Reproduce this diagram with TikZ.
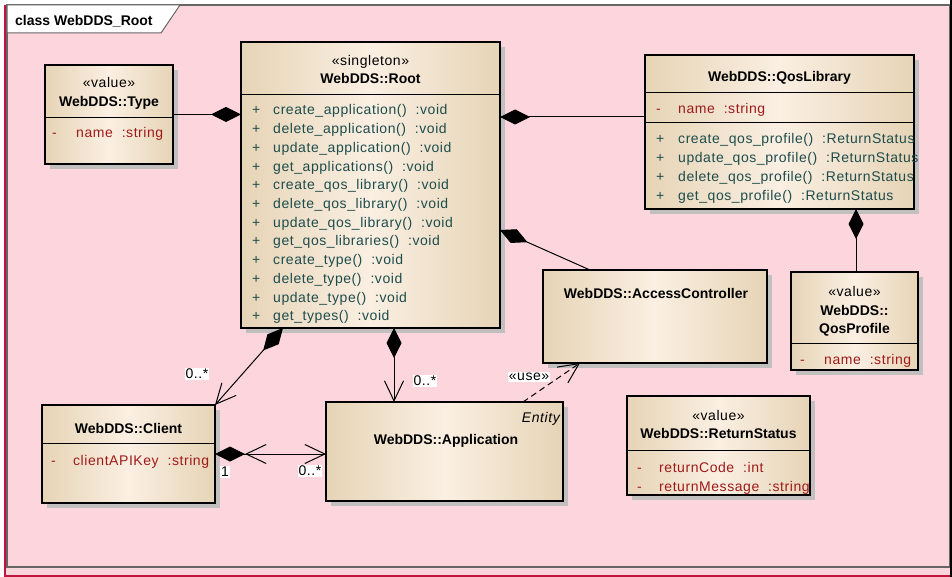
\documentclass[tikz,border=0pt]{standalone}
\usepackage{fontspec}
\setmainfont{Liberation Sans}[LetterSpace=4, BoldFeatures={LetterSpace=0}]
\usetikzlibrary{arrows.meta,shadows,calc}
\definecolor{pinkbg}{HTML}{FCD5DD}
\definecolor{crim}{HTML}{C0143C}
\definecolor{tanE}{HTML}{E6D4B6}
\definecolor{tanM}{HTML}{FAEFE2}
\definecolor{opc}{HTML}{1E4D4D}
\definecolor{atc}{HTML}{A01A1A}
\definecolor{shad}{HTML}{C2BFBF}
\definecolor{frameg}{HTML}{666666}
\tikzset{
  cmp/.tip={Diamond[length=30pt,width=15pt]},
  nav/.tip={Straight Barb[length=20pt,width=19pt]},
  classbox/.style={draw=black, line width=1.1pt, inner sep=0pt, outer sep=0pt,
    anchor=north west, left color=tanE, right color=tanE, middle color=tanM,
    drop shadow={shadow xshift=5pt, shadow yshift=-5pt, fill=shad, opacity=1}},
  sep/.style={draw=black, line width=1pt},
  txt/.style={inner sep=0pt, font=\fontsize{14}{16}\selectfont},
  ctr/.style={txt, anchor=base},
  ttl/.style={txt, anchor=base, font=\fontsize{14}{16}\selectfont\bfseries},
  op/.style={txt, anchor=base west, text=opc},
  att/.style={txt, anchor=base west, text=atc},
  conn/.style={draw=black, line width=1pt},
  usedash/.style={dash pattern=on 6pt off 4pt},
  mult/.style={txt, fill=white, inner sep=1pt, anchor=center}
}
\begin{document}
\begin{tikzpicture}[x=1pt,y=-1pt]
\useasboundingbox (0,0) rectangle (952,577);
% frame
\fill[white] (0,0) rectangle (952,577);
\fill[pinkbg] (4,5) rectangle (950,577);
\draw[crim, line width=2pt] (5,5) -- (5,576) -- (950,576);
\draw[frameg, line width=1.2pt] (7,5) rectangle (950,567);
\draw[black, line width=2pt] (950.5,0) -- (950.5,577);
\draw[frameg, line width=1pt, fill=white] (7,5) -- (180,5) -- (161,33) -- (7,33) -- cycle;
\node[txt, anchor=base west, font=\fontsize{14}{16}\selectfont\bfseries] (tabtitle) at (15,26) {class WebDDS\_Root};

% classes
\node[classbox, minimum width=128pt, minimum height=99pt] (type) at (45,65) {};
\node[classbox, minimum width=259pt, minimum height=286pt] (root) at (241,42) {};
\node[classbox, minimum width=269pt, minimum height=154pt] (qoslib) at (645,55) {};
\node[classbox, minimum width=224pt, minimum height=93pt] (access) at (543,270) {};
\node[classbox, minimum width=127pt, minimum height=98pt] (qosprof) at (791,272) {};
\node[classbox, minimum width=173pt, minimum height=98pt] (client) at (42,405) {};
\node[classbox, minimum width=237pt, minimum height=99pt] (app) at (326,402) {};
\node[classbox, minimum width=183pt, minimum height=99pt] (retstat) at (627,396) {};

% separators
\draw[sep] (type.west |- 0,118) -- (type.east |- 0,118);
\draw[sep] (root.west |- 0,95) -- (root.east |- 0,95);
\draw[sep] (qoslib.west |- 0,93) -- (qoslib.east |- 0,93);
\draw[sep] (qoslib.west |- 0,123) -- (qoslib.east |- 0,123);
\draw[sep] (qosprof.west |- 0,343) -- (qosprof.east |- 0,343);
\draw[sep] (client.west |- 0,443) -- (client.east |- 0,443);
\draw[sep] (retstat.west |- 0,450) -- (retstat.east |- 0,450);

% Type
\node[ctr] (typest) at (109,88) {«value»};
\node[ttl] (typet) at (109,107) {WebDDS::Type};
\node[att] (typem) at (52,138) {-};
\node[att] (typea) at (76,138) {name~ :string};

% Root
\node[ctr] (rootst) at (370.5,66) {«singleton»};
\node[ttl] (roott) at (370.5,84) {WebDDS::Root};
\foreach \t [count=\i from 0] in {create\_application()~ :void, delete\_application()~ :void,
  update\_application()~ :void, get\_applications()~ :void, create\_qos\_library()~ :void,
  delete\_qos\_library()~ :void, update\_qos\_library()~ :void, get\_qos\_libraries()~ :void,
  create\_type()~ :void, delete\_type()~ :void, update\_type()~ :void, get\_types()~ :void}{
  \node[op] (rplus\i) at (252,{115+18.7*\i}) {+};
  \node[op] (rop\i) at (273,{115+18.7*\i}) {\t};
}

% QosLibrary
\node[ttl] (qlt) at (779.5,82) {WebDDS::QosLibrary};
\node[att] (qlm) at (656,114) {-};
\node[att] (qla) at (678,114) {name~ :string};
\foreach \t [count=\i from 0] in {create\_qos\_profile()~ :ReturnStatus, update\_qos\_profile()~ :ReturnStatus,
  delete\_qos\_profile()~ :ReturnStatus, get\_qos\_profile()~ :ReturnStatus}{
  \node[op] (qplus\i) at (656,{144+18.7*\i}) {+};
  \node[op] (qop\i) at (678,{144+18.7*\i}) {\t};
}

% AccessController
\node[ttl] (act) at (656,298) {WebDDS::AccessController};

% QosProfile
\node[ctr] (qpst) at (854.5,296) {«value»};
\node[ttl] (qpt1) at (854.5,315) {WebDDS::};
\node[ttl] (qpt2) at (854.5,333) {QosProfile};
\node[att] (qpm) at (800,364) {-};
\node[att] (qpa) at (824,364) {name~ :string};

% Client
\node[ttl] (clt) at (128.5,433) {WebDDS::Client};
\node[att] (clm) at (51,465) {-};
\node[att] (cla) at (73,465) {clientAPIKey~ :string};

% Application
\node[txt, anchor=base east, font=\fontsize{14}{16}\selectfont\itshape] (appst) at (560,422) {Entity};
\node[ttl] (appt) at (446,444) {WebDDS::Application};

% ReturnStatus
\node[ctr] (rsst) at (718.5,420) {«value»};
\node[ttl] (rst) at (718.5,438) {WebDDS::ReturnStatus};
\node[att] (rsm1) at (637,472) {-};
\node[att] (rsa1) at (659,472) {returnCode~ :int};
\node[att] (rsm2) at (637,491) {-};
\node[att] (rsa2) at (659,491) {returnMessage~ :string};

% connectors
\draw[conn, cmp-] (type.east -| root.west) -- (type.east);
\coordinate (qL) at ($(qoslib.north west)+(0,62)$);
\draw[conn, cmp-] (qL -| root.east) -- (qL);
\coordinate (rC) at ($(root.north east)+(0,188)$);
\coordinate (aC) at ($(access.north west)+(47,0)$);
\draw[conn, cmp-] (rC) -- (aC);
\coordinate (qP) at ($(qosprof.north west)+(65,0)$);
\draw[conn, cmp-] (qP |- qoslib.south) -- (qP);
\coordinate (rCl) at ($(root.south west)+(42,0)$);
\draw[conn, cmp-nav] (rCl) -- (client.north east);
\coordinate (rA) at ($(root.south west)+(153,0)$);
\draw[conn, cmp-nav] (rA) -- (rA |- app.north);
\draw[conn, cmp-nav] (client.east) -- (client.east -| app.west);
\draw[conn, nav-, shorten <=30pt] (client.east) -- (client.east -| app.west);
\coordinate (aU) at ($(app.north west)+(197,0)$);
\coordinate (acU) at ($(access.south west)+(37,0)$);
\draw[conn, usedash, -nav] (aU) -- (acU);

% labels
\node[mult] (m1) at (197,374) {0..*};
\node[mult] (m2) at (425,381) {0..*};
\node[mult] (m3) at (225,472) {1};
\node[mult] (m4) at (310,471) {0..*};
\node[mult] (m5) at (529,377) {«use»};
\end{tikzpicture}
\end{document}
